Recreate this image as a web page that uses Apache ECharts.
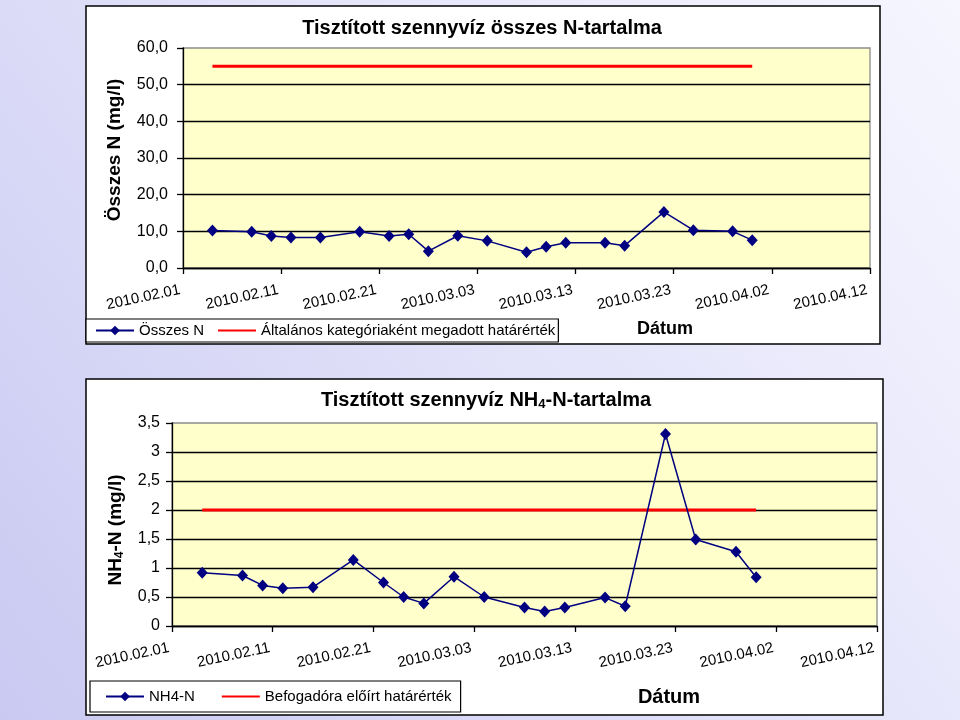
<!DOCTYPE html>
<html>
<head>
<meta charset="utf-8">
<script src="https://cdn.jsdelivr.net/npm/echarts@6/dist/echarts.min.js"></script>
<style>html,body{margin:0;padding:0;}#c{width:960px;height:720px;}</style>
</head>
<body>
<div id="c"></div>
<script>
// ---- data ----
const tickLabels = ['2010.02.01','2010.02.11','2010.02.21','2010.03.03','2010.03.13','2010.03.23','2010.04.02','2010.04.12'];
const sampleDates = ['2010.02.04','2010.02.08','2010.02.10','2010.02.12','2010.02.15','2010.02.19','2010.02.22','2010.02.24','2010.02.26','2010.03.01',
                     '2010.03.04','2010.03.08','2010.03.10','2010.03.12','2010.03.16','2010.03.18','2010.03.22','2010.03.25','2010.03.29','2010.03.31'];
const totalN = [10.2, 9.9, 8.7, 8.3, 8.3, 9.9, 8.7, 9.2, 4.6, 8.8, 7.4, 4.3, 5.8, 6.9, 6.9, 6.1, 15.3, 10.3, 10.0, 7.6];
const nh4N = [0.92, 0.87, 0.70, 0.65, 0.67, 1.14, 0.75, 0.50, 0.39, 0.85, 0.50, 0.32, 0.25, 0.32, 0.49, 0.34, 3.31, 1.49, 1.28, 0.84];
const limitDates = ['2010.02.04','2010.03.31'];
const limitTotalN = [55, 55];
const limitNH4 = [2, 2];

const seriesNames = ['Összes N', 'Általános kategóriaként megadott határérték', 'NH4-N', 'Befogadóra előírt határérték'];

// ---- helpers ----
function dayOffset(s) {
  const p = s.split('.').map(Number);
  return (Date.UTC(p[0], p[1] - 1, p[2]) - Date.UTC(2010, 1, 1)) / 86400000;
}
function pairs(dates, vals) { return dates.map((d, i) => [dayOffset(d), vals[i]]); }

const FONT = '"Liberation Sans", Arial, sans-serif';
const navy = '#000080';
const red = '#FF0000';

function xAxisCfg(gi) {
  return {
    type: 'value', gridIndex: gi, min: 0, max: 70, interval: 10,
    axisLine: { show: true, lineStyle: { color: '#000', width: 1.3 } },
    axisTick: { show: true, inside: false, length: 6, lineStyle: { color: '#000', width: 1.3 } },
    splitLine: { show: false },
    axisLabel: {
      rotate: 12, margin: 21, interval: 0, showMinLabel: true, showMaxLabel: true,
      padding: [0, 3, 0, 0],
      color: '#000', fontFamily: FONT, fontSize: 15,
      formatter: v => tickLabels[Math.round(v / 10)]
    }
  };
}
function yAxisCfg(gi, max, interval, fmt, margin) {
  return {
    type: 'value', gridIndex: gi, min: 0, max: max, interval: interval,
    axisLine: { show: true, lineStyle: { color: '#000', width: 1.3 } },
    axisTick: { show: true, inside: false, length: 6, lineStyle: { color: '#000', width: 1.3 } },
    splitLine: { show: true, showMaxLine: false, lineStyle: { color: '#000', width: 1.3 } },
    axisLabel: { margin: margin, color: '#000', fontFamily: FONT, fontSize: 16, formatter: fmt }
  };
}

const chart = echarts.init(document.getElementById('c'));
chart.setOption({
  backgroundColor: {
    type: 'linear', x: 0, y: 1, x2: 1, y2: 0,
    colorStops: [{ offset: 0, color: '#C9C9F2' }, { offset: 0.55, color: '#E4E4FA' }, { offset: 1, color: '#F6F6FF' }]
  },
  animation: false,
  graphic: [
    { type: 'rect', z: -10, shape: { x: 86, y: 6, width: 794, height: 338 }, style: { fill: '#fff', stroke: '#000', lineWidth: 1.5 } },
    { type: 'rect', z: -10, shape: { x: 86, y: 379, width: 797, height: 336 }, style: { fill: '#fff', stroke: '#000', lineWidth: 1.5 } },
    { type: 'text', z: 100, x: 482, y: 28, style: { text: 'Tisztított szennyvíz összes N-tartalma', font: 'bold 20px ' + FONT, fill: '#000', align: 'center', verticalAlign: 'middle' } },
    { type: 'text', z: 100, x: 486, y: 400, style: {
        text: 'Tisztított szennyvíz NH{sub|4}-N-tartalma', font: 'bold 20px ' + FONT, fill: '#000', align: 'center', verticalAlign: 'middle',
        rich: { sub: { font: 'bold 13px ' + FONT, fill: '#000', verticalAlign: 'bottom', padding: [8, 0, 0, 0] } } } },
    { type: 'text', z: 100, x: 115, y: 150, rotation: Math.PI / 2, style: { text: 'Összes N (mg/l)', font: 'bold 19px ' + FONT, fill: '#000', align: 'center', verticalAlign: 'middle' } },
    { type: 'text', z: 100, x: 116, y: 530, rotation: Math.PI / 2, style: {
        text: 'NH{sub|4}-N (mg/l)', font: 'bold 19px ' + FONT, fill: '#000', align: 'center', verticalAlign: 'middle',
        rich: { sub: { font: 'bold 12px ' + FONT, fill: '#000', verticalAlign: 'bottom', padding: [7, 0, 0, 0] } } } },
    { type: 'text', z: 100, x: 665, y: 329, style: { text: 'Dátum', font: 'bold 18px ' + FONT, fill: '#000', align: 'center', verticalAlign: 'middle' } },
    { type: 'text', z: 100, x: 669, y: 697, style: { text: 'Dátum', font: 'bold 20px ' + FONT, fill: '#000', align: 'center', verticalAlign: 'middle' } }
  ],
  grid: [
    { left: 183, top: 48, right: 90, bottom: 452, show: true, backgroundColor: '#FFFFCC', borderColor: '#8C8C8C', borderWidth: 1.3 },
    { left: 172, top: 423, right: 83, bottom: 94, show: true, backgroundColor: '#FFFFCC', borderColor: '#8C8C8C', borderWidth: 1.3 }
  ],
  xAxis: [xAxisCfg(0), xAxisCfg(1)],
  yAxis: [
    yAxisCfg(0, 60, 10, v => v.toFixed(1).replace('.', ','), 15),
    yAxisCfg(1, 3.5, 0.5, v => String(v).replace('.', ','), 12)
  ],
  legend: [
    {
      data: [seriesNames[0], { name: seriesNames[1], itemStyle: { opacity: 0 } }], left: 86, top: 319, orient: 'horizontal',
      itemWidth: 38, itemHeight: 12, itemGap: 13, padding: [4, 3, 4, 9],
      backgroundColor: '#fff', borderColor: '#000', borderWidth: 1.2, borderRadius: 0,
      textStyle: { color: '#000', fontFamily: FONT, fontSize: 15 }
    },
    {
      data: [seriesNames[2], { name: seriesNames[3], itemStyle: { opacity: 0 } }], left: 90, top: 681, orient: 'horizontal',
      itemWidth: 38, itemHeight: 12, itemGap: 26, padding: [8, 9, 8, 15],
      backgroundColor: '#fff', borderColor: '#000', borderWidth: 1.2, borderRadius: 0,
      textStyle: { color: '#000', fontFamily: FONT, fontSize: 15 }
    }
  ],
  series: [
    {
      name: seriesNames[0], type: 'line', xAxisIndex: 0, yAxisIndex: 0, data: pairs(sampleDates, totalN),
      symbol: 'diamond', symbolSize: [11, 12], color: navy,
      lineStyle: { color: navy, width: 1.5 }, itemStyle: { color: navy }, z: 3
    },
    {
      name: seriesNames[1], type: 'line', xAxisIndex: 0, yAxisIndex: 0, data: pairs(limitDates, limitTotalN),
      showSymbol: false, symbol: 'none', color: red, lineStyle: { color: red, width: 3 }, z: 2
    },
    {
      name: seriesNames[2], type: 'line', xAxisIndex: 1, yAxisIndex: 1, data: pairs(sampleDates, nh4N),
      symbol: 'diamond', symbolSize: [11, 12], color: navy,
      lineStyle: { color: navy, width: 1.5 }, itemStyle: { color: navy }, z: 3
    },
    {
      name: seriesNames[3], type: 'line', xAxisIndex: 1, yAxisIndex: 1, data: pairs(limitDates, limitNH4),
      showSymbol: false, symbol: 'none', color: red, lineStyle: { color: red, width: 3 }, z: 2
    }
  ]
});
</script>
</body>
</html>
